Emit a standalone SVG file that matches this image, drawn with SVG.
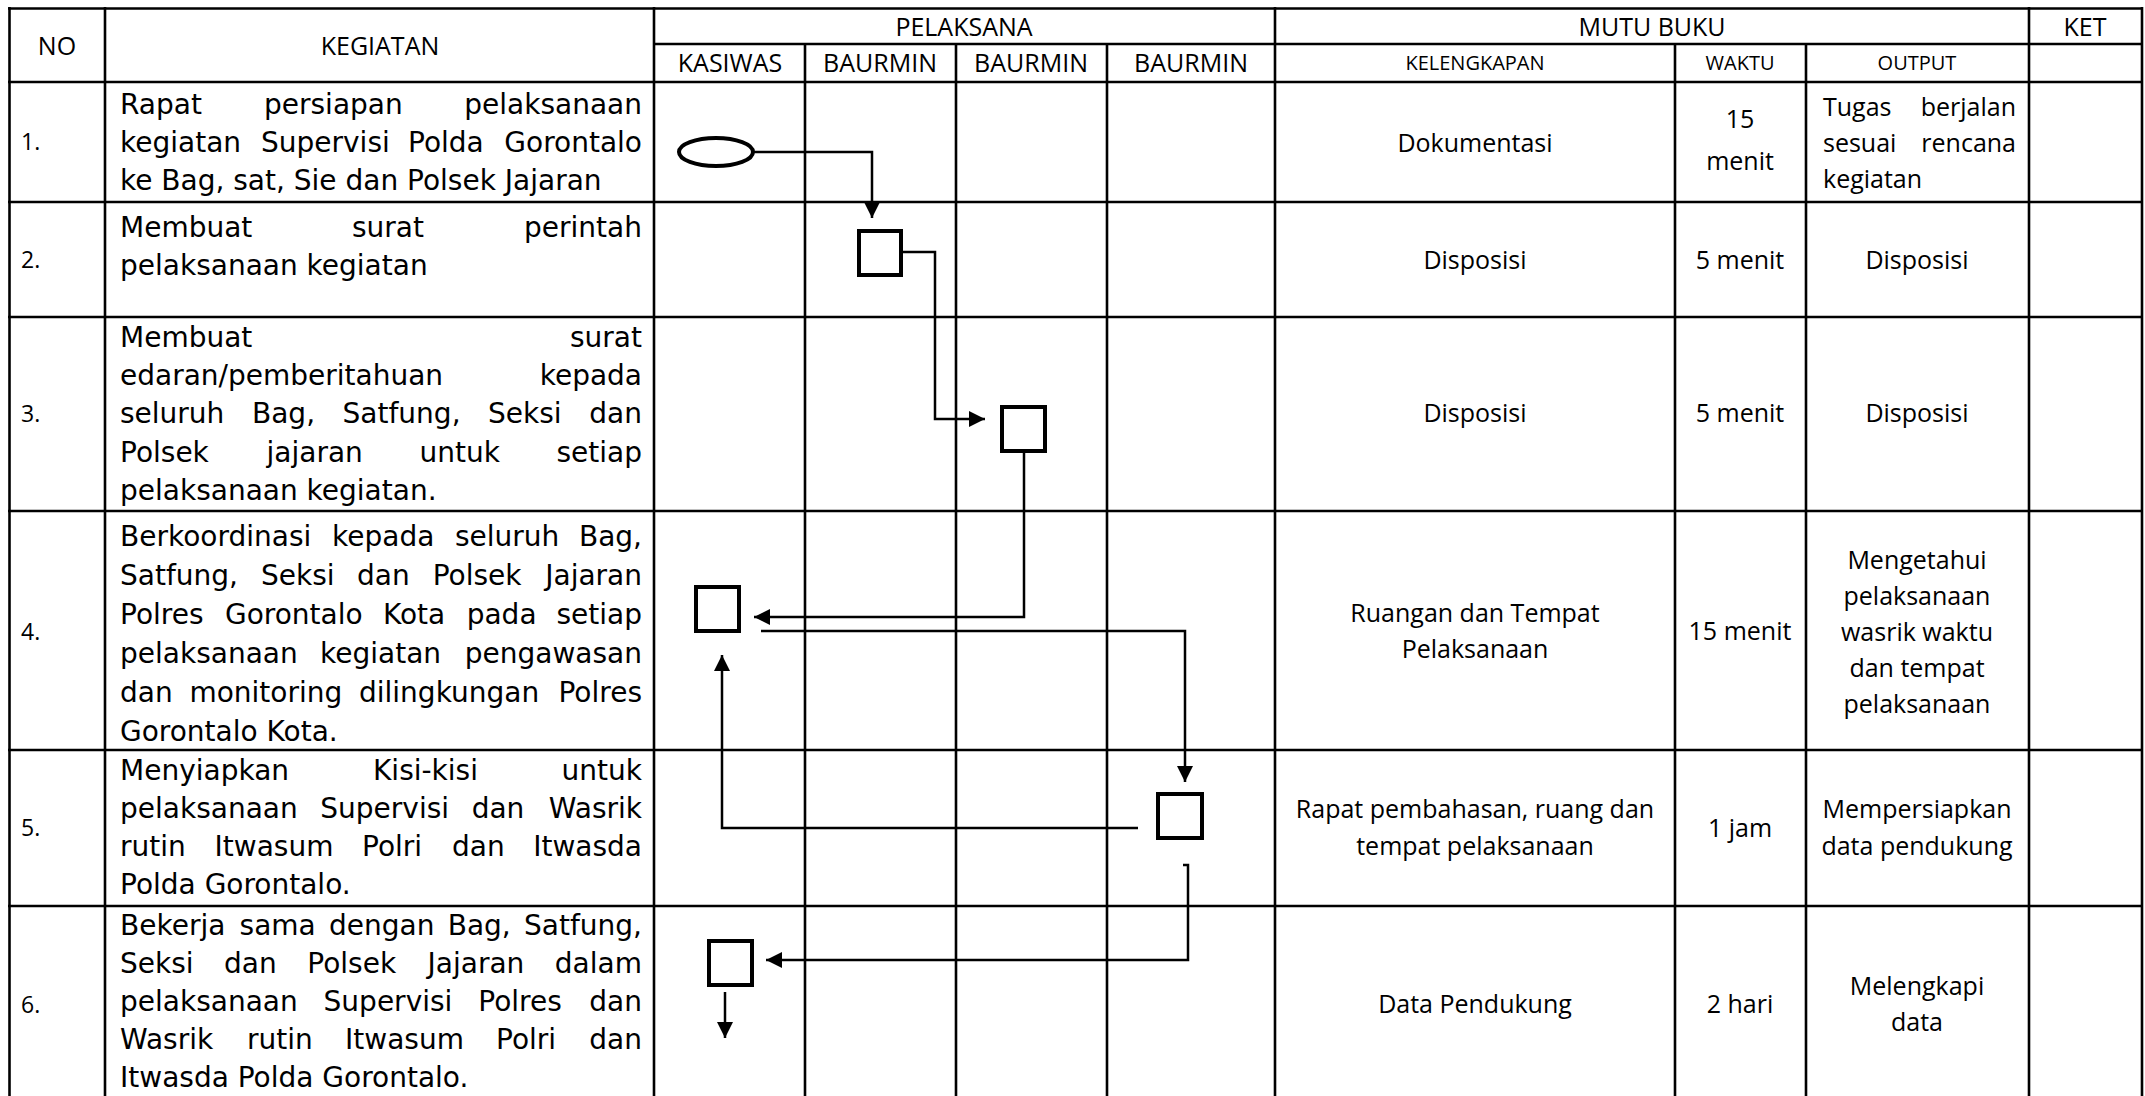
<svg xmlns="http://www.w3.org/2000/svg" width="2145" height="1096" viewBox="0 0 2145 1096">
<style>
.t{font-family:"Open Sans","Noto Sans",sans-serif;font-size:25px;fill:#000}
.c{text-anchor:middle}
.e{text-anchor:end}
.s{font-size:20px}
.n{font-size:23px}
.k{font-family:"DejaVu Sans",sans-serif;font-size:28px;fill:#000}
.grid line{stroke:#000;stroke-width:2.6}
.box{fill:#fff;stroke:#000;stroke-width:4}
.con{fill:none;stroke:#000;stroke-width:2.5;marker-end:url(#ah)}
</style>
<defs>
<marker id="ah" markerUnits="userSpaceOnUse" markerWidth="17" markerHeight="16" refX="16" refY="8" orient="auto"><path d="M0,0 L16,8 L0,16 z" fill="#000"/></marker>
</defs>
<rect width="2145" height="1096" fill="#fff"/>
<g id="table" class="grid">
<line x1="8" y1="8.5" x2="2143" y2="8.5"/>
<line x1="654" y1="44" x2="2143" y2="44"/>
<line x1="8" y1="82" x2="2143" y2="82"/>
<line x1="8" y1="202" x2="2143" y2="202"/>
<line x1="8" y1="317" x2="2143" y2="317"/>
<line x1="8" y1="511" x2="2143" y2="511"/>
<line x1="8" y1="750" x2="2143" y2="750"/>
<line x1="8" y1="906" x2="2143" y2="906"/>
<line x1="9.5" y1="7" x2="9.5" y2="1096"/>
<line x1="105" y1="7" x2="105" y2="1096"/>
<line x1="654" y1="7" x2="654" y2="1096"/>
<line x1="805" y1="44" x2="805" y2="1096"/>
<line x1="956" y1="44" x2="956" y2="1096"/>
<line x1="1107" y1="44" x2="1107" y2="1096"/>
<line x1="1275" y1="7" x2="1275" y2="1096"/>
<line x1="1675" y1="44" x2="1675" y2="1096"/>
<line x1="1806" y1="44" x2="1806" y2="1096"/>
<line x1="2029" y1="7" x2="2029" y2="1096"/>
<line x1="2142" y1="7" x2="2142" y2="1096"/>
</g>
<g id="header">
<text class="t c" x="57" y="55">NO</text>
<text class="t c" x="380" y="55">KEGIATAN</text>
<text class="t c" x="964" y="36">PELAKSANA</text>
<text class="t c" x="1652" y="36">MUTU BUKU</text>
<text class="t c" x="2085" y="36">KET</text>
<text class="t c" x="730" y="72">KASIWAS</text>
<text class="t c" x="880" y="72">BAURMIN</text>
<text class="t c" x="1031" y="72">BAURMIN</text>
<text class="t c" x="1191" y="72">BAURMIN</text>
<text class="t c s" x="1475" y="70">KELENGKAPAN</text>
<text class="t c s" x="1740" y="70">WAKTU</text>
<text class="t c s" x="1917" y="70">OUTPUT</text>
</g>
<g id="numbers">
<text class="t n" x="21" y="150">1.</text>
<text class="t n" x="21" y="268">2.</text>
<text class="t n" x="21" y="422">3.</text>
<text class="t n" x="21" y="640">4.</text>
<text class="t n" x="21" y="836">5.</text>
<text class="t n" x="21" y="1013">6.</text>
</g>
<g id="kegiatan">
<text class="k" x="120" y="114">Rapat</text><text class="k" x="264" y="114">persiapan</text><text class="k e" x="642" y="114">pelaksanaan</text>
<text class="k" x="120" y="152">kegiatan</text><text class="k" x="261" y="152">Supervisi</text><text class="k" x="408" y="152">Polda</text><text class="k e" x="642" y="152">Gorontalo</text>
<text class="k" x="120" y="190">ke Bag, sat, Sie dan Polsek Jajaran</text>

<text class="k" x="120" y="237">Membuat</text><text class="k" x="352" y="237">surat</text><text class="k e" x="642" y="237">perintah</text>
<text class="k" x="120" y="275">pelaksanaan kegiatan</text>

<text class="k" x="120" y="347">Membuat</text><text class="k e" x="642" y="347">surat</text>
<text class="k" x="120" y="385">edaran/pemberitahuan</text><text class="k e" x="642" y="385">kepada</text>
<text class="k" x="120" y="423">seluruh</text><text class="k" x="252" y="423">Bag,</text><text class="k" x="342.6" y="423">Satfung,</text><text class="k" x="488" y="423">Seksi</text><text class="k e" x="642" y="423">dan</text>
<text class="k" x="120" y="462">Polsek</text><text class="k" x="266.5" y="462">jajaran</text><text class="k" x="419.5" y="462">untuk</text><text class="k e" x="642" y="462">setiap</text>
<text class="k" x="120" y="500">pelaksanaan kegiatan.</text>

<text class="k" x="120" y="546">Berkoordinasi</text><text class="k" x="332" y="546">kepada</text><text class="k" x="455" y="546">seluruh</text><text class="k e" x="642" y="546">Bag,</text>
<text class="k" x="120" y="585">Satfung,</text><text class="k" x="261" y="585">Seksi</text><text class="k" x="357" y="585">dan</text><text class="k" x="432.7" y="585">Polsek</text><text class="k e" x="642" y="585">Jajaran</text>
<text class="k" x="120" y="624">Polres</text><text class="k" x="225" y="624">Gorontalo</text><text class="k" x="383" y="624">Kota</text><text class="k" x="466.7" y="624">pada</text><text class="k e" x="642" y="624">setiap</text>
<text class="k" x="120" y="663">pelaksanaan</text><text class="k" x="320" y="663">kegiatan</text><text class="k e" x="642" y="663">pengawasan</text>
<text class="k" x="120" y="702">dan</text><text class="k" x="189.4" y="702">monitoring</text><text class="k" x="359" y="702">dilingkungan</text><text class="k e" x="642" y="702">Polres</text>
<text class="k" x="120" y="741">Gorontalo Kota.</text>

<text class="k" x="120" y="780">Menyiapkan</text><text class="k" x="373" y="780">Kisi-kisi</text><text class="k e" x="642" y="780">untuk</text>
<text class="k" x="120" y="818">pelaksanaan</text><text class="k" x="320.3" y="818">Supervisi</text><text class="k" x="471.7" y="818">dan</text><text class="k e" x="642" y="818">Wasrik</text>
<text class="k" x="120" y="856">rutin</text><text class="k" x="214.5" y="856">Itwasum</text><text class="k" x="362" y="856">Polri</text><text class="k" x="452" y="856">dan</text><text class="k e" x="642" y="856">Itwasda</text>
<text class="k" x="120" y="894">Polda Gorontalo.</text>

<text class="k" x="120" y="935">Bekerja</text><text class="k" x="239.6" y="935">sama</text><text class="k" x="329" y="935">dengan</text><text class="k" x="447.7" y="935">Bag,</text><text class="k e" x="642" y="935">Satfung,</text>
<text class="k" x="120" y="973">Seksi</text><text class="k" x="224" y="973">dan</text><text class="k" x="307.3" y="973">Polsek</text><text class="k" x="427.6" y="973">Jajaran</text><text class="k e" x="642" y="973">dalam</text>
<text class="k" x="120" y="1011">pelaksanaan</text><text class="k" x="323.6" y="1011">Supervisi</text><text class="k" x="478.3" y="1011">Polres</text><text class="k e" x="642" y="1011">dan</text>
<text class="k" x="120" y="1049">Wasrik</text><text class="k" x="247" y="1049">rutin</text><text class="k" x="345" y="1049">Itwasum</text><text class="k" x="496" y="1049">Polri</text><text class="k e" x="642" y="1049">dan</text>
<text class="k" x="120" y="1087">Itwasda Polda Gorontalo.</text>
</g>
<g id="mutu">
<text class="t c" x="1475" y="152">Dokumentasi</text>
<text class="t c" x="1740" y="128">15</text>
<text class="t c" x="1740" y="170">menit</text>
<text class="t" x="1823" y="116">Tugas</text><text class="t e" x="2016" y="116">berjalan</text>
<text class="t" x="1823" y="152">sesuai</text><text class="t e" x="2016" y="152">rencana</text>
<text class="t" x="1823" y="188">kegiatan</text>

<text class="t c" x="1475" y="269">Disposisi</text>
<text class="t c" x="1740" y="269">5 menit</text>
<text class="t c" x="1917" y="269">Disposisi</text>

<text class="t c" x="1475" y="422">Disposisi</text>
<text class="t c" x="1740" y="422">5 menit</text>
<text class="t c" x="1917" y="422">Disposisi</text>

<text class="t c" x="1475" y="622">Ruangan dan Tempat</text>
<text class="t c" x="1475" y="658">Pelaksanaan</text>
<text class="t c" x="1740" y="640">15 menit</text>
<text class="t c" x="1917" y="569">Mengetahui</text>
<text class="t c" x="1917" y="605">pelaksanaan</text>
<text class="t c" x="1917" y="641">wasrik waktu</text>
<text class="t c" x="1917" y="677">dan tempat</text>
<text class="t c" x="1917" y="713">pelaksanaan</text>

<text class="t c" x="1475" y="818">Rapat pembahasan, ruang dan</text>
<text class="t c" x="1475" y="855">tempat pelaksanaan</text>
<text class="t c" x="1740" y="837">1 jam</text>
<text class="t c" x="1917" y="818">Mempersiapkan</text>
<text class="t c" x="1917" y="855">data pendukung</text>

<text class="t c" x="1475" y="1013">Data Pendukung</text>
<text class="t c" x="1740" y="1013">2 hari</text>
<text class="t c" x="1917" y="995">Melengkapi</text>
<text class="t c" x="1917" y="1031">data</text>
</g>
<g id="connectors">
<path class="con" d="M754 152 H872 V218"/>
<path class="con" d="M903 252 H935 V419 H985"/>
<path class="con" d="M1024 453 V617 H754"/>
<path class="con" d="M761 631 H1185 V782"/>
<path class="con" d="M1138 828 H722 V655"/>
<path class="con" d="M1183 865 H1188 V960 H766"/>
<path class="con" d="M725 992 V1038"/>
</g>
<g id="start"><ellipse class="box" cx="716" cy="152" rx="37" ry="14"/></g>
<g id="step2"><rect class="box" x="859" y="231" width="42" height="44"/></g>
<g id="step3"><rect class="box" x="1002" y="407" width="43" height="44"/></g>
<g id="step4"><rect class="box" x="696" y="587" width="43" height="44"/></g>
<g id="step5"><rect class="box" x="1158" y="794" width="44" height="44"/></g>
<g id="step6"><rect class="box" x="709" y="941" width="43" height="44"/></g>
</svg>
